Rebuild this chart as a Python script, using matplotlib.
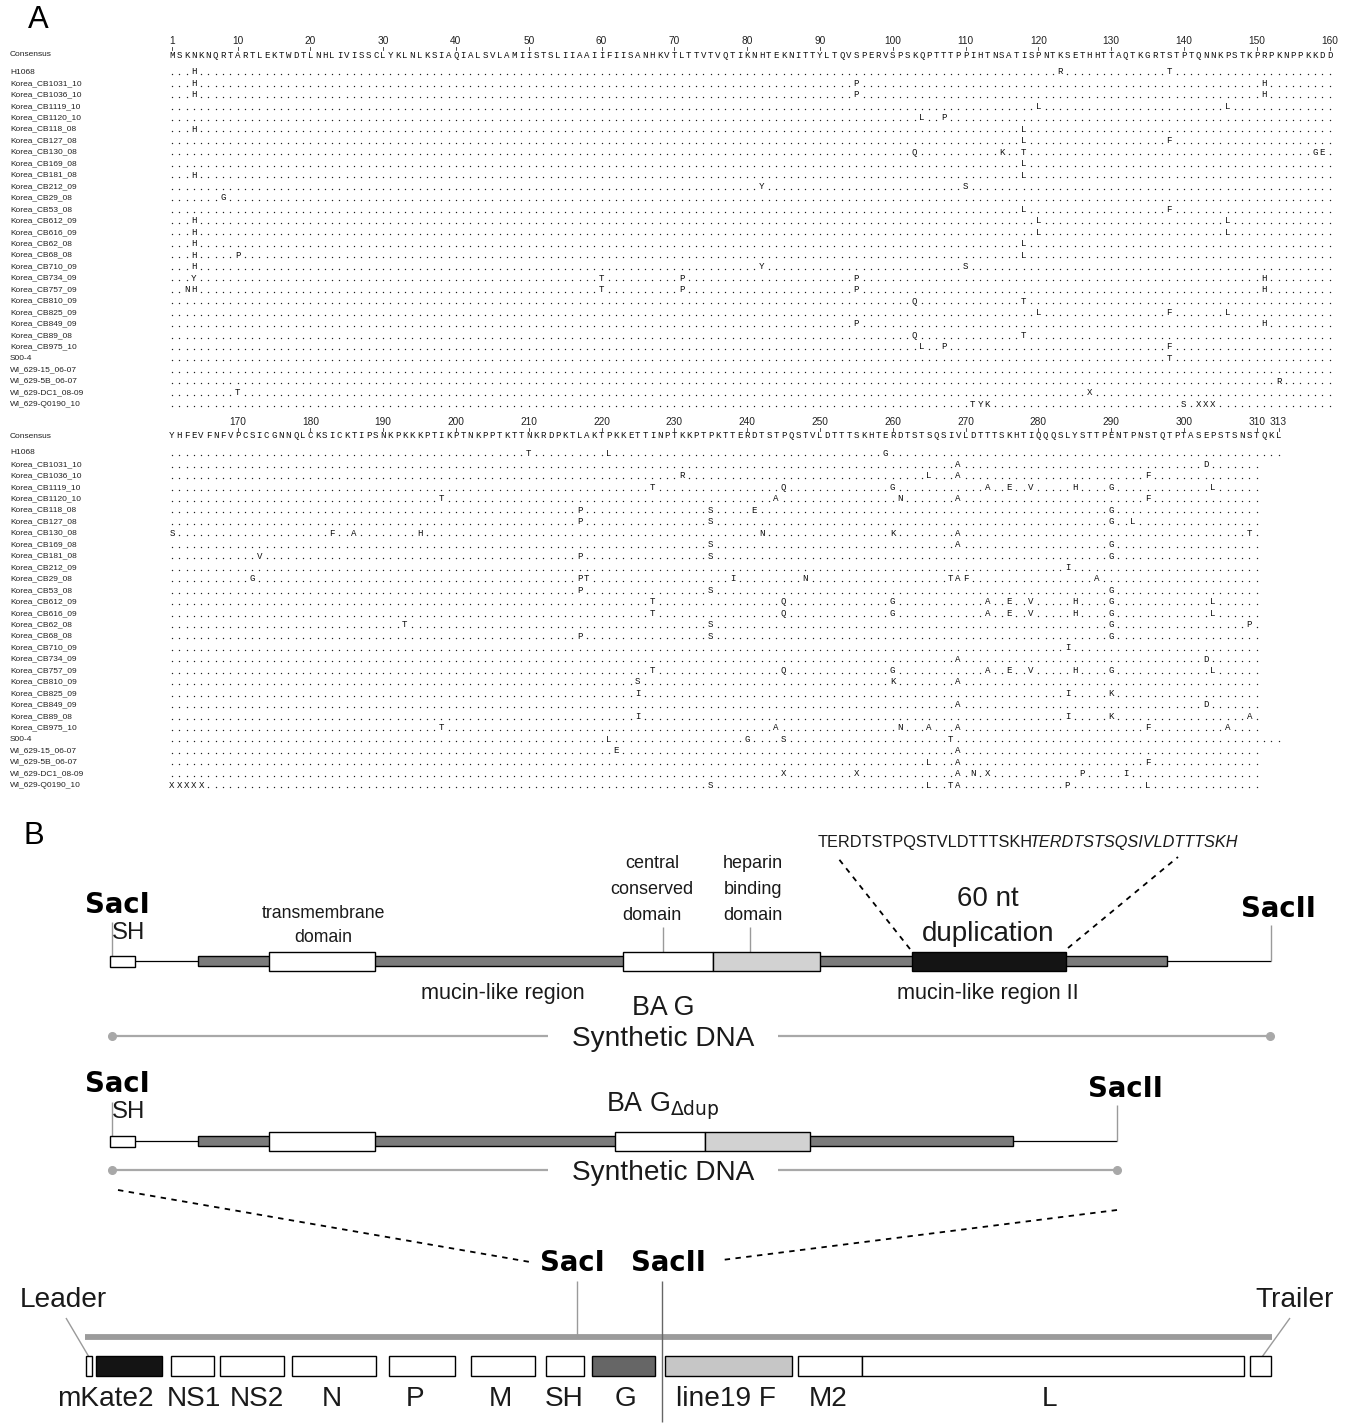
import matplotlib
matplotlib.use('Agg')
import matplotlib.pyplot as plt
from matplotlib.patches import Rectangle

# ------------------------------------------------------------------ data
consensus_top = "".join([
    "MSKNKNQRTA", "RTLEKTWDTL", "NHLIVISSCL", "YKLNLKSIAQ", "IALSVLAMII",
    "STSLIIAAII", "FIISANHKVT", "LTTVTVQTIK", "NHTEKNITTY", "LTQVSPERVS",
    "PSKQPTTTPP", "IHTNSATISP", "NTKSETHHTT", "AQTKGRTSTP", "TQNNKPSTKP",
    "RPKNPPKKDD"])
consensus_bottom = "".join([
    "YHFEVFNFVP", "CSICGNNQLC", "KSICKTIPSN", "KPKKKPTIKP", "TNKPPTKTTN",
    "KRDPKTLAKT", "PKKETTINPT", "KKPTPKTTER", "DTSTPQSTVL", "DTTTSKHTER",
    "DTSTSQSIVL", "DTTTSKHTIQ", "QQSLYSTTPE", "NTPNSTQTPT", "ASEPSTSNST",
    "QKL"])

strains = ["H1068", "Korea_CB1031_10", "Korea_CB1036_10", "Korea_CB1119_10",
           "Korea_CB1120_10", "Korea_CB118_08", "Korea_CB127_08", "Korea_CB130_08",
           "Korea_CB169_08", "Korea_CB181_08", "Korea_CB212_09", "Korea_CB29_08",
           "Korea_CB53_08", "Korea_CB612_09", "Korea_CB616_09", "Korea_CB62_08",
           "Korea_CB68_08", "Korea_CB710_09", "Korea_CB734_09", "Korea_CB757_09",
           "Korea_CB810_09", "Korea_CB825_09", "Korea_CB849_09", "Korea_CB89_08",
           "Korea_CB975_10", "S00-4", "WI_629-15_06-07", "WI_629-5B_06-07",
           "WI_629-DC1_08-09", "WI_629-Q0190_10"]

# substitutions (position + residue) in residues 1-160
subs_top = [
    "4H 123R 138T", "4H 95P 151H", "4H 95P 151H", "120L 146L", "104L 107P",
    "4H 118L", "118L 138F", "103Q 115K 118T 158G 159E", "118L", "4H 118L",
    "82Y 110S", "8G", "118L 138F", "4H 120L 146L", "4H 120L 146L",
    "4H 118L", "4H 10P 118L", "4H 82Y 110S", "4Y 60T 71P 95P 151H",
    "3N 4H 60T 71P 95P 151H", "103Q 118T", "120L 138F 146L", "95P 151H",
    "103Q 118T", "104L 107P 138F", "138T", "", "153R", "10T 127X",
    "111T 112Y 113K 140S 142X 143X 144X"]

# substitutions in residues 161-313
subs_bottom = [
    "210T 221L 259G", "269A 303D", "231R 265L 269A 295F",
    "227T 245Q 260G 273A 276E 279V 285H 290G 304L",
    "198T 244A 261N 269A 295F", "217P 235S 241E 290G", "217P 235S 290G 293L",
    "161S 183F 186A 195H 242N 260K 269A 309T", "235S 269A 290G",
    "173V 217P 235S 290G", "284I",
    "172G 217P 218T 238I 248N 268T 269A 270F 288A", "217P 235S 290G",
    "227T 245Q 260G 273A 276E 279V 285H 290G 304L",
    "227T 245Q 260G 273A 276E 279V 285H 290G 304L",
    "193T 235S 290G 309P", "217P 235S 290G", "284I", "269A 303D",
    "227T 245Q 260G 273A 276E 279V 285H 290G 304L",
    "225S 260K 269A", "225I 284I 290K", "269A 303D", "225I 284I 290K 309A",
    "198T 244A 261N 265A 269A 295F 306A", "221L 240G 245S 268T",
    "222E 269A", "265L 269A 295F", "245X 255X 269A 271N 273X 286P 292I",
    "161X 162X 163X 164X 165X 235S 265L 268T 269A 284P 295L"]

# last residue of each sequence in the second block
seq_end = [313, 310, 310, 310, 310, 310, 310, 310, 310, 310, 310, 310, 310, 310, 310,
           310, 310, 310, 310, 310, 310, 310, 310, 310, 310, 313, 310, 310, 310, 310]

ticks_top = [1, 10, 20, 30, 40, 50, 60, 70, 80, 90, 100, 110, 120, 130, 140, 150, 160]
ticks_bottom = [170, 180, 190, 200, 210, 220, 230, 240, 250, 260, 270, 280, 290, 300, 310, 313]

dup_peptide = "TERDTSTPQSTVLDTTTSKH"
dup_peptide_copy = "TERDTSTSQSIVLDTTTSKH"

genome_genes = ["mKate2", "NS1", "NS2", "N", "P", "M", "SH", "G", "line19 F", "M2", "L"]

# ------------------------------------------------------------------ figure
W, H = 1357, 1423
fig = plt.figure(figsize=(W / 100, H / 100), dpi=100)
ax = fig.add_axes([0, 0, 1, 1])
ax.set_xlim(0, W)
ax.set_ylim(H, 0)
ax.axis('off')

PX = 0.72  # points per pixel
SANS = 'Liberation Sans'
MONO = 'Liberation Mono'

X0, DX, DY = 172, 7.28, 11.45


def parse(s):
    d = {}
    for tok in s.split():
        d[int(tok[:-1])] = tok[-1]
    return d


def draw_block(cons, start, ticks, y_num, y_cons, y_row0, subs, ends):
    for t in ticks:
        x = X0 + (t - start) * DX
        ax.text(x, y_num, str(t), ha='center', va='center', fontsize=7.3,
                family=SANS, color='#222222')
        ax.plot([x, x], [y_num + 5.5, y_num + 8.5], color='#333333', lw=0.6)
    for i, ch in enumerate(cons):
        ax.text(X0 + i * DX, y_cons, ch, ha='center', va='center', fontsize=6.6,
                family=MONO, color='#111111')
    ax.text(10, y_cons, 'Consensus', ha='left', va='center', fontsize=6.0,
            family=SANS, color='#222222')
    dx_, dy_ = [], []
    for r, name in enumerate(strains):
        y = y_row0 + r * DY
        ax.text(10, y, name, ha='left', va='center', fontsize=6.0, family=SANS,
                color='#222222')
        d = parse(subs[r])
        for n in range(start, ends[r] + 1):
            x = X0 + (n - start) * DX
            if n in d:
                ax.text(x, y, d[n], ha='center', va='center', fontsize=6.6,
                        family=MONO, color='#111111')
            else:
                dx_.append(x)
                dy_.append(y + 2.2)
    ax.scatter(dx_, dy_, s=1.0, c='#222222', marker='o', linewidths=0)


draw_block(consensus_top, 1, ticks_top, 41, 55, 72, subs_top, [160] * len(strains))
draw_block(consensus_bottom, 161, ticks_bottom, 422, 436, 453, subs_bottom, seq_end)

# panel letters
ax.text(28, 20, 'A', fontsize=31 * PX, family=SANS, ha='left', va='center')
ax.text(24, 836, 'B', fontsize=31 * PX, family=SANS, ha='left', va='center')


# ------------------------------------------------------------------ part B helpers
def box(x0, x1, y0, y1, fc, lw=1.0, ec='black'):
    ax.add_patch(Rectangle((x0, y0), x1 - x0, y1 - y0, facecolor=fc, edgecolor=ec,
                           lw=lw, zorder=3))


def line(xs, ys, color='black', lw=1.0, ls='-', z=2):
    ax.plot(xs, ys, color=color, lw=lw, ls=ls, zorder=z, solid_capstyle='butt')


def txt(x, y, s, size_px, ha='center', bold=False, family=SANS, style='normal', color='#1a1a1a'):
    ax.text(x, y, s, fontsize=size_px * PX, family=family, ha=ha, va='center',
            fontweight='bold' if bold else 'normal', style=style, color=color)


GRAY_BAR = '#7b7b7b'
LIGHT = '#d2d2d2'
LINE_GRAY = '#a8a8a8'


def construct(yc, bar_end, cc_x0, hep_x0, hep_x1, sacii_x, dup=None):
    box(110, 135, yc - 5.5, yc + 5.5, 'white')
    line([135, 198], [yc, yc], lw=0.9)
    box(198, bar_end, yc - 5, yc + 5, GRAY_BAR)
    box(269, 375, yc - 9.5, yc + 9.5, 'white')
    box(cc_x0, hep_x0, yc - 9.5, yc + 9.5, 'white')
    box(hep_x0, hep_x1, yc - 9.5, yc + 9.5, LIGHT)
    if dup is not None:
        box(dup[0], dup[1], yc - 9.5, yc + 9.5, '#141414')
    line([bar_end, sacii_x], [yc, yc], lw=0.9)
    line([sacii_x, sacii_x], [yc - 36, yc], color='#9a9a9a', lw=1.0)
    line([112, 112], [yc - 39, yc - 5.5], color='#9a9a9a', lw=1.0)


def synthetic(y, x1):
    line([112, 548], [y, y], color=LINE_GRAY, lw=1.6)
    line([778, x1], [y, y], color=LINE_GRAY, lw=1.6)
    ax.plot([112, x1], [y, y], 'o', color=LINE_GRAY, ms=5.5, zorder=3)
    txt(663, y + 3, 'Synthetic DNA', 28)


# ---------- construct 1 : BA G
Y1 = 961
construct(Y1, 1167, 623, 713, 820, 1271, dup=(912, 1066))
txt(85, 905, 'SacI', 27.5, ha='left', bold=True, family='DejaVu Sans', color='black')
txt(112, 933, 'SH', 24, ha='left')
txt(1241, 909, 'SacII', 27.5, ha='left', bold=True, family='DejaVu Sans', color='black')
txt(323, 913, 'transmembrane', 17.6)
txt(323, 938, 'domain', 17.6)
txt(652, 864, 'central', 18)
txt(652, 889, 'conserved', 18)
txt(652, 915, 'domain', 18)
line([663, 663], [927, 951.5], color='#9a9a9a', lw=1.0)
txt(753, 864, 'heparin', 18)
txt(753, 889, 'binding', 18)
txt(753, 915, 'domain', 18)
line([750, 750], [927, 951.5], color='#9a9a9a', lw=1.0)
txt(988, 899, '60 nt', 27.8)
txt(988, 934, 'duplication', 27.8)
txt(503, 993, 'mucin-like region', 21.6)
txt(988, 993, 'mucin-like region II', 21.6)
txt(663, 1008, 'BA G', 26.8)
line([910, 838], [949, 858], lw=1.3, ls=(0, (3, 3)))
line([1068, 1178], [948, 857], lw=1.3, ls=(0, (3, 3)))
txt(818, 843, dup_peptide, 16.3, ha='left')
txt(1030, 843, dup_peptide_copy, 16.3, ha='left', style='italic')
synthetic(1036, 1270)

# ---------- construct 2 : BA G delta dup
Y2 = 1141
construct(Y2, 1013, 615, 705, 810, 1117)
txt(85, 1084, 'SacI', 27.5, ha='left', bold=True, family='DejaVu Sans', color='black')
txt(112, 1112, 'SH', 24, ha='left')
txt(1088, 1089, 'SacII', 27.5, ha='left', bold=True, family='DejaVu Sans', color='black')
ax.text(663, 1106, r'BA G$_{\Delta\mathrm{dup}}$', fontsize=26.8 * PX, family=SANS,
        ha='center', va='center', color='#1a1a1a')
synthetic(1170, 1117)

# ---------- dashed zoom lines to genome
line([118, 530], [1190, 1262], lw=1.3, ls=(0, (3, 3)))
line([1117, 722], [1210, 1260], lw=1.3, ls=(0, (3, 3)))
txt(540, 1263, 'SacI', 27.5, ha='left', bold=True, family='DejaVu Sans', color='black')
txt(631, 1263, 'SacII', 27.5, ha='left', bold=True, family='DejaVu Sans', color='black')

# ---------- genome
GY = 1337
line([85, 1272], [GY, GY], color='#9b9b9b', lw=4.2, z=1)
line([577, 577], [1281, GY], color='#9a9a9a', lw=1.0)
line([662, 662], [1281, 1422], color='#666666', lw=1.0, z=5)
txt(20, 1300, 'Leader', 28, ha='left')
txt(1255, 1300, 'Trailer', 28, ha='left')
line([66, 89], [1318, 1357], color='#9a9a9a', lw=1.0)
line([1290, 1262], [1318, 1357], color='#9a9a9a', lw=1.0)

gene_x = [(96, 162), (171, 214), (220, 284), (292, 376), (389, 455), (471, 535),
          (546, 584), (592, 655), (665, 792), (798, 862), (862, 1244)]
gene_fc = ['#141414', 'white', 'white', 'white', 'white', 'white', 'white',
           '#666666', '#c6c6c6', 'white', 'white']
label_x = [105, 194, 257, 332, 415, 500, 564, 625, 726, 828, 1049]
box(86, 92, 1356, 1376, 'white')
box(1250, 1271, 1356, 1376, 'white')
for (a, b), fc, name, lx in zip(gene_x, gene_fc, genome_genes, label_x):
    box(a, b, 1356, 1376, fc)
    txt(lx, 1399, name, 28)

fig.savefig('out.png', dpi=100)
